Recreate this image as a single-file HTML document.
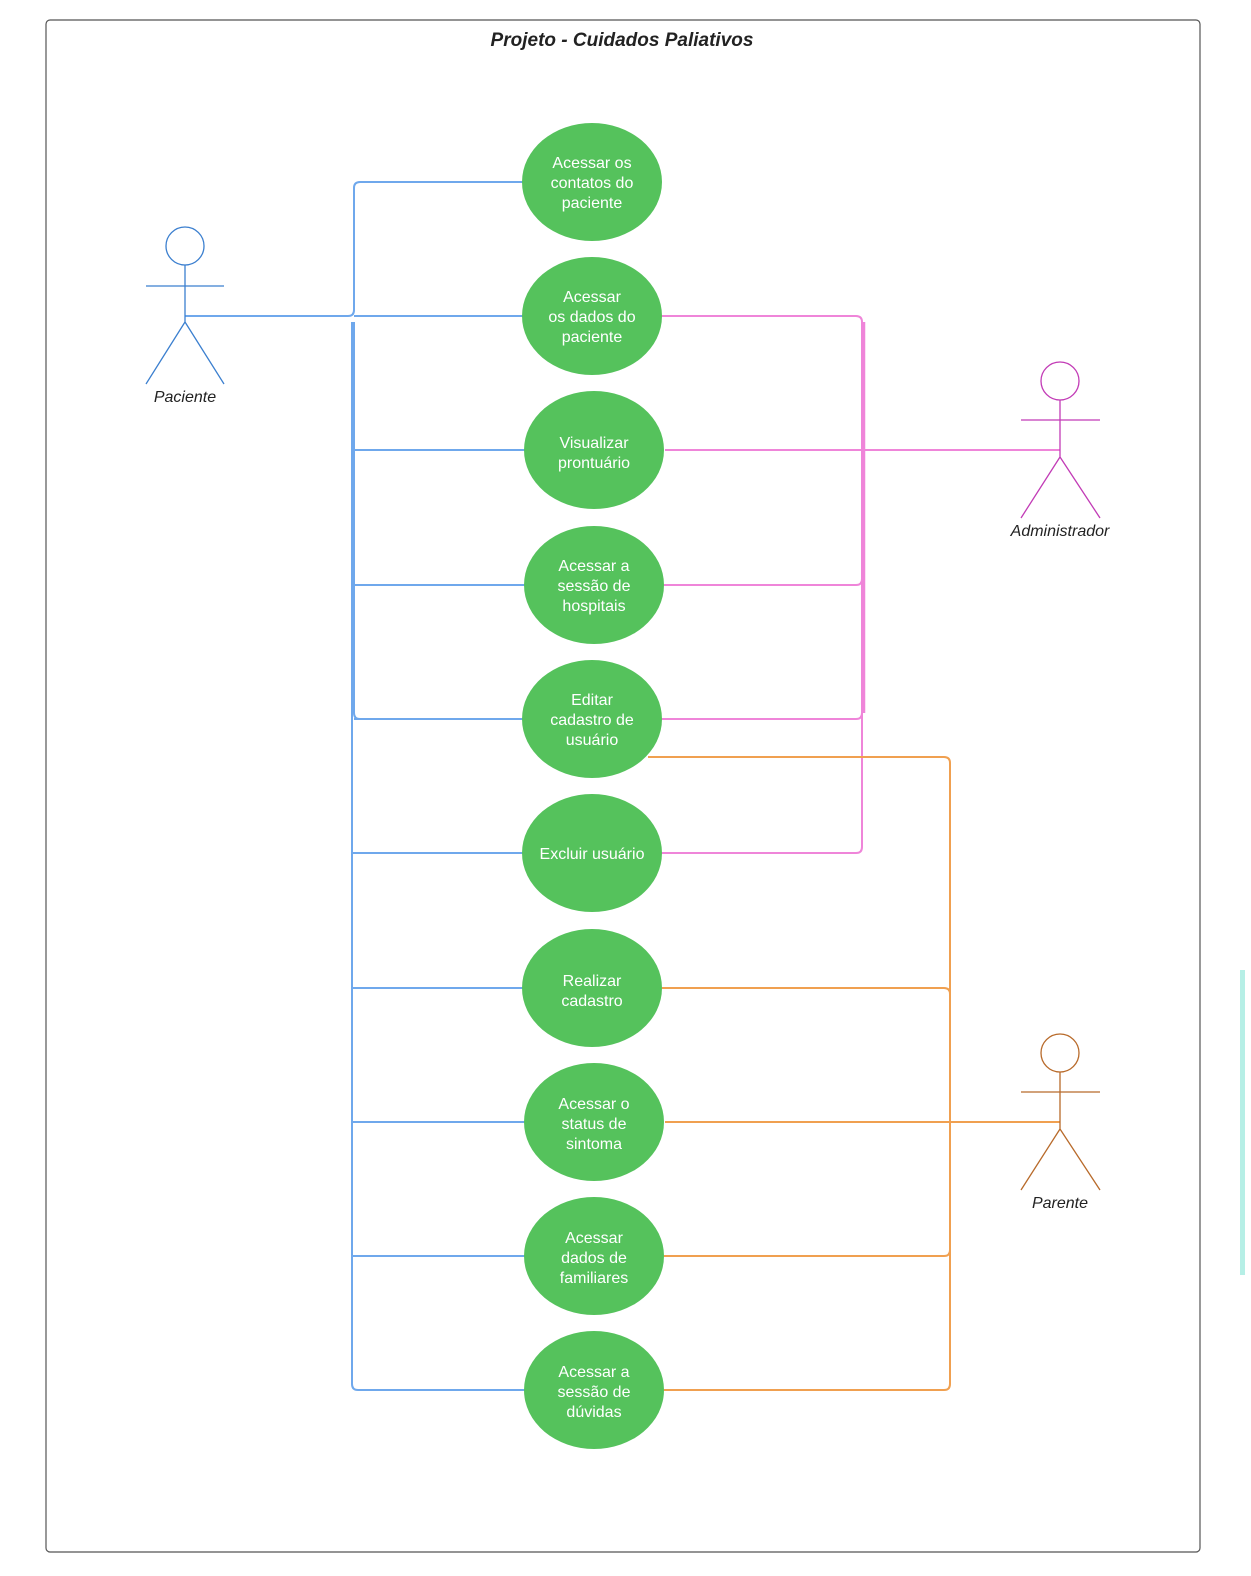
<!DOCTYPE html>
<html><head><meta charset="utf-8"><style>
html,body{margin:0;padding:0;background:#fff;overflow:hidden;width:1251px;height:1576px;}
svg{display:block;width:1251px;height:1576px;}
text{font-family:"Liberation Sans",sans-serif;}
</style></head><body>
<svg width="1251" height="1576" viewBox="0 0 1251 1576" xmlns="http://www.w3.org/2000/svg">
<rect x="46" y="20" width="1154" height="1532" rx="4" fill="#fff" stroke="#555" stroke-width="1.2"/>
<text x="622" y="46" text-anchor="middle" font-size="19" font-weight="bold" font-style="italic" fill="#222">Projeto - Cuidados Paliativos</text>
<rect x="1240" y="970" width="5" height="305" fill="#b6efe6"/>

<g fill="none" stroke-width="2" stroke-linejoin="round">
<g stroke="#6fa8ec">
<path d="M185 316 H348 Q354 316 354 310 V188 Q354 182 360 182 H524"/>
<path d="M354 316 H524"/>
<path d="M352 322 V1384 Q352 1390 358 1390 H526"/>
<path d="M352 450 H526 M352 585 H526 M354 719 H524 M352 853 H524 M352 988 H524 M352 1122 H526 M352 1256 H526"/>
<path d="M354 322 V713 Q354 719 360 719"/>
</g>
<g stroke="#ef85d9">
<path d="M662 316 H856 Q862 316 862 322 V847 Q862 853 856 853 H662"/>
<path d="M665 450 H1060 M664 585 H856 Q862 585 862 579 M662 719 H856 Q862 719 862 713"/>
<path d="M864 322 V713" stroke-width="2.5"/>
</g>
<g stroke="#f0a050">
<path d="M648 757 H944 Q950 757 950 763 V1384 Q950 1390 944 1390 H664"/>
<path d="M662 988 H944 Q950 988 950 994 M665 1122 H1060 M664 1256 H944 Q950 1256 950 1250"/>
</g>
</g>

<g fill="none" stroke-width="1.3">
<g stroke="#3b7fcf">
<circle cx="185" cy="246" r="19"/>
<path d="M185 265 V322 M146 286 H224 M185 322 L146 384 M185 322 L224 384"/>
</g>
<g stroke="#c23bb6">
<circle cx="1060" cy="381" r="19"/>
<path d="M1060 400 V457 M1021 420 H1100 M1060 457 L1021 518 M1060 457 L1100 518"/>
</g>
<g stroke="#b86a2a">
<circle cx="1060" cy="1053" r="19"/>
<path d="M1060 1072 V1129 M1021 1092 H1100 M1060 1129 L1021 1190 M1060 1129 L1100 1190"/>
</g>
</g>
<g font-size="16" font-style="italic" fill="#222" text-anchor="middle">
<text x="185" y="402">Paciente</text>
<text x="1060" y="536">Administrador</text>
<text x="1060" y="1208">Parente</text>
</g>

<g fill="#55c25c">
<ellipse cx="592" cy="182" rx="70" ry="59"/>
<ellipse cx="592" cy="316" rx="70" ry="59"/>
<ellipse cx="594" cy="450" rx="70" ry="59"/>
<ellipse cx="594" cy="585" rx="70" ry="59"/>
<ellipse cx="592" cy="719" rx="70" ry="59"/>
<ellipse cx="592" cy="853" rx="70" ry="59"/>
<ellipse cx="592" cy="988" rx="70" ry="59"/>
<ellipse cx="594" cy="1122" rx="70" ry="59"/>
<ellipse cx="594" cy="1256" rx="70" ry="59"/>
<ellipse cx="594" cy="1390" rx="70" ry="59"/>
</g>
<g font-size="16" fill="#fff" text-anchor="middle">
<text x="592" y="168">Acessar os</text><text x="592" y="188">contatos do</text><text x="592" y="208">paciente</text>
<text x="592" y="302">Acessar</text><text x="592" y="322">os dados do</text><text x="592" y="342">paciente</text>
<text x="594" y="448">Visualizar</text><text x="594" y="468">prontuário</text>
<text x="594" y="571">Acessar a</text><text x="594" y="591">sessão de</text><text x="594" y="611">hospitais</text>
<text x="592" y="705">Editar</text><text x="592" y="725">cadastro de</text><text x="592" y="745">usuário</text>
<text x="592" y="859">Excluir usuário</text>
<text x="592" y="986">Realizar</text><text x="592" y="1006">cadastro</text>
<text x="594" y="1109">Acessar o</text><text x="594" y="1129">status de</text><text x="594" y="1149">sintoma</text>
<text x="594" y="1243">Acessar</text><text x="594" y="1263">dados de</text><text x="594" y="1283">familiares</text>
<text x="594" y="1377">Acessar a</text><text x="594" y="1397">sessão de</text><text x="594" y="1417">dúvidas</text>
</g>
</svg>
</body></html>
